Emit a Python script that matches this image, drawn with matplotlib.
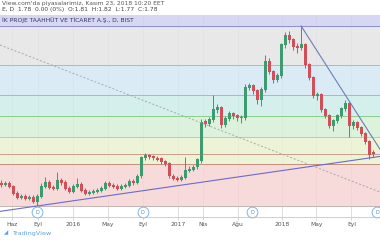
import matplotlib
matplotlib.use("Agg")
import matplotlib.pyplot as plt
import matplotlib.dates as mdates
import pandas as pd
import numpy as np

plt.rcParams['font.family'] = ['DejaVu Sans']

# ---- data (2-week candles, price) ----
first_candle = '2015-04-24'
n_candles = 94
opens = [1.20,1.18,1.20,1.14,1.00,0.92,0.94,0.90,0.92,0.84,
         0.94,1.14,1.22,1.12,1.10,1.26,1.22,1.10,1.04,1.14,
         1.18,1.06,1.00,1.02,1.04,1.06,1.10,1.20,1.16,1.14,
         1.10,1.14,1.16,1.24,1.22,1.34,1.70,1.74,1.72,1.70,
         1.68,1.62,1.58,1.34,1.30,1.28,1.32,1.46,1.48,1.52,
         1.66,2.42,2.38,2.46,2.66,2.70,2.36,2.48,2.58,2.54,
         2.50,2.50,3.10,3.14,3.04,2.86,3.06,3.62,3.42,3.26,
         3.34,3.96,4.14,4.06,3.92,3.90,3.96,3.56,3.30,2.94,
         2.96,2.66,2.54,2.34,2.44,2.54,2.68,2.78,2.34,2.40,
         2.30,2.18,2.02,1.81]
closes = [1.18,1.20,1.14,1.00,0.92,0.94,0.90,0.92,0.84,0.94,
          1.14,1.22,1.12,1.10,1.26,1.22,1.10,1.04,1.14,1.18,
          1.06,1.00,1.02,1.04,1.06,1.10,1.20,1.16,1.14,1.10,
          1.14,1.16,1.24,1.22,1.34,1.70,1.74,1.72,1.70,1.68,
          1.62,1.58,1.34,1.30,1.28,1.32,1.46,1.48,1.52,1.66,
          2.42,2.38,2.46,2.66,2.70,2.36,2.48,2.58,2.54,2.50,
          2.50,3.10,3.14,3.04,2.86,3.06,3.62,3.42,3.26,3.34,
          3.96,4.14,4.06,3.92,3.90,3.96,3.56,3.30,2.94,2.96,
          2.66,2.54,2.34,2.44,2.54,2.68,2.78,2.34,2.40,2.30,
          2.18,2.02,1.76,1.78]
highs = [1.26,1.24,1.24,1.16,1.04,0.98,0.98,0.96,0.96,0.98,
         1.20,1.32,1.26,1.16,1.42,1.30,1.26,1.14,1.18,1.30,
         1.22,1.10,1.06,1.08,1.10,1.14,1.24,1.24,1.20,1.18,
         1.18,1.20,1.28,1.28,1.38,1.74,1.80,1.78,1.76,1.74,
         1.72,1.66,1.62,1.38,1.34,1.36,1.72,1.54,1.56,1.70,
         2.48,2.48,2.52,2.96,2.78,2.74,2.54,2.64,2.62,2.58,
         2.56,3.18,3.20,3.18,3.08,3.12,3.76,3.70,3.46,3.40,
         4.00,4.22,4.24,4.10,4.00,4.34,4.00,3.60,3.34,3.02,
         3.00,2.70,2.58,2.48,2.58,2.72,2.86,2.82,2.46,2.44,
         2.34,2.22,2.06,1.86]
lows = [1.12,1.14,1.10,0.96,0.88,0.88,0.86,0.86,0.80,0.74,
        0.90,1.10,1.08,1.06,1.06,1.16,1.06,1.00,1.00,1.10,
        1.02,0.96,0.96,0.98,1.00,1.02,1.06,1.12,1.10,1.06,
        1.06,1.10,1.12,1.16,1.18,1.30,1.66,1.68,1.66,1.64,
        1.58,1.54,1.30,1.26,1.24,1.24,1.28,1.42,1.44,1.48,
        1.60,2.32,2.34,2.42,2.60,2.30,2.32,2.44,2.48,2.44,
        2.40,2.46,3.06,2.98,2.78,2.74,3.02,3.38,3.20,3.22,
        3.30,3.90,4.00,3.86,3.80,3.86,3.50,3.26,2.90,2.86,
        2.62,2.50,2.30,2.24,2.40,2.50,2.64,2.12,2.28,2.26,
        2.14,1.98,1.68,1.72]

fib_low = 0.74
fib_high = 4.34
fib_ratios = [0, 0.236, 0.382, 0.5, 0.618, 0.786, 1.0, 1.618]
fib_band_colors = ['#f6d4d4', '#e9f2d0', '#d7f0d6', '#ceede9', '#d5e8f5', '#e4e4e6', '#d0d1f3']
fib_line_colors = ['#c4b4b4', '#c48e7c', '#a9d892', '#8ccf8c', '#7ecdc4', '#a2bccd', '#8d8dd8', '#7d8de0']
last_price = 1.78

uptrend = [('2015-08-28', 0.74), ('2018-11-02', 1.70)]
downtrend = [('2018-03-09', 4.34), ('2018-10-01', 2.50)]
dashed_line = [('2015-04-20', 3.96), ('2018-12-10', 1.02)]

marker_dates = ['2015-08-28', '2016-09-01', '2017-09-18', '2018-11-30']

tick_dates = ['2015-06-01', '2015-09-01', '2016-01-01', '2016-05-01', '2016-09-01',
              '2017-01-01', '2017-04-01', '2017-08-01', '2018-01-01', '2018-05-01', '2018-09-01']
tick_labels = ['Haz', 'Eyl', '2016', 'May', 'Eyl', '2017', 'Nis', 'Ağu', '2018', 'May', 'Eyl']

header1 = "View.com'da piyasalarimiz, Kasım 23, 2018 10:20 EET"
header2 = "E, D  1.78  0.00 (0%)  O:1.81  H:1.82  L:1.77  C:1.78"
title = "İK PROJE TAAHHÜT VE TİCARET A.Ş., D, BIST"

# ---- figure ----
fig = plt.figure(figsize=(3.8, 2.4), dpi=100)
ax = fig.add_axes([0, 1 - 217 / 240, 1, 202 / 240])

x0 = pd.Timestamp('2015-04-20')
x1 = pd.Timestamp('2018-12-10')
ax.set_xlim(mdates.date2num(x0), mdates.date2num(x1))
ax.set_ylim(0.52, 4.56)

# grid
for d in tick_dates:
    ax.axvline(mdates.date2num(pd.Timestamp(d)), color='#d0d0d0', lw=0.5, zorder=0)

# fib bands
levels = [fib_low + r * (fib_high - fib_low) for r in fib_ratios]
for i in range(len(levels) - 1):
    ax.axhspan(levels[i], levels[i + 1], color=fib_band_colors[i], alpha=0.85, lw=0, zorder=1)
for i, lv in enumerate(levels):
    ax.axhline(lv, color=fib_line_colors[i], lw=0.7, zorder=2)

ax.axhline(last_price, color='#c8907e', lw=0.6, zorder=2)

# candles
dates = pd.date_range(first_candle, periods=n_candles, freq='14D')
xs = mdates.date2num(dates)
o = np.array(opens); c = np.array(closes); h = np.array(highs); l = np.array(lows)
up = c >= o
cols = np.where(up, '#3f9a70', '#d24f5a')
ax.vlines(xs, l, h, colors=cols, lw=0.7, zorder=4)
ax.bar(xs, np.abs(c - o) + 0.02, bottom=np.minimum(o, c) - 0.01, width=11, color=cols, lw=0, zorder=5)

def dn(s):
    return mdates.date2num(pd.Timestamp(s))

# trend lines
ax.axline((dn(uptrend[0][0]), uptrend[0][1]), (dn(uptrend[1][0]), uptrend[1][1]),
          color='#6b6bcc', lw=0.8, zorder=6)
ax.axline((dn(dashed_line[0][0]), dashed_line[0][1]), (dn(dashed_line[1][0]), dashed_line[1][1]),
          color='#a8a8a8', lw=0.7, ls=(0, (2, 2)), zorder=6)
(dxa, ya), (dxb, yb) = [(dn(d), v) for d, v in downtrend]
slope = (yb - ya) / (dxb - dxa)
xe = dn('2018-12-20')
ax.plot([dxa, xe], [ya, ya + slope * (xe - dxa)], color='#6a7fb8', lw=0.8, zorder=6)

# markers
for d in marker_dates:
    ax.scatter([dn(d)], [0.62], s=60, facecolor='white', edgecolor='#7fb6e6', lw=0.7, zorder=7, clip_on=False)
    ax.text(dn(d), 0.62, 'D', fontsize=3.5, color='#4a90d0', ha='center', va='center', zorder=8)

# axes styling
for s in ['top', 'right', 'left']:
    ax.spines[s].set_visible(False)
ax.spines['bottom'].set_color('#c8c8c8')
ax.spines['bottom'].set_linewidth(0.6)
ax.set_yticks([])
ax.set_xticks([dn(d) for d in tick_dates])
ax.set_xticklabels(tick_labels)
ax.tick_params(axis='x', length=2, width=0.5, color='#c8c8c8', labelsize=4.3, labelcolor='#555555', pad=1.5)

# texts
fig.text(2 / 380, 1 - 3 / 240, header1, fontsize=4.3, color='#555555', va='center', ha='left')
fig.text(2 / 380, 1 - 10 / 240, header2, fontsize=4.3, color='#444444', va='center', ha='left')
ax.text(2 / 380, 1 - 5.5 / 202, title, transform=ax.transAxes, fontsize=4.3, color='#333355',
        va='center', ha='left', zorder=9)
fig.text(4 / 380, 1 - 233 / 240, '◢', fontsize=4, color='#5aa0e0', va='center', ha='left')
fig.text(12 / 380, 1 - 233 / 240, 'TradingView', fontsize=4.6, color='#5aa0e0', va='center', ha='left')

fig.savefig('out.png', dpi=100)
